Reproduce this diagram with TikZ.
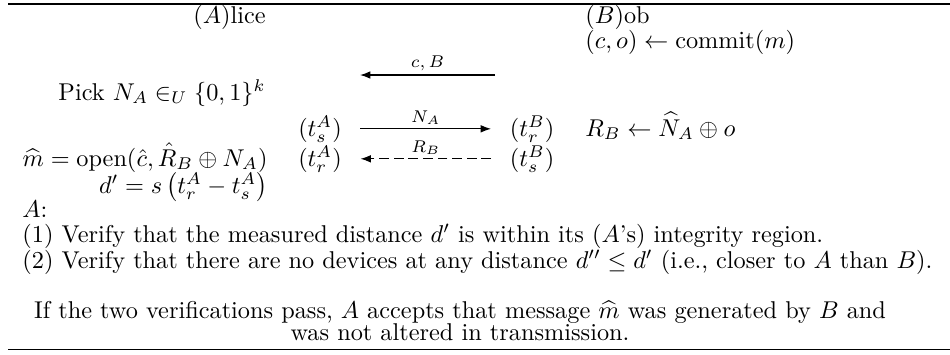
\documentclass[tikz,border=0pt]{standalone}
\usepackage{amsmath}
\usepackage{amssymb}
\usetikzlibrary{arrows.meta}
\tikzset{
  msg/.style={-{Latex[length=1.5mm,width=1.1mm]},line width=0.5pt},
  msgd/.style={msg,dash pattern=on 4pt off 2pt},
  rule/.style={line width=0.8pt},
  txt/.style={inner sep=0pt,anchor=base west},
  txtr/.style={inner sep=0pt,anchor=base east},
  txtc/.style={inner sep=0pt,anchor=base},
  stamp/.style={inner ysep=0pt,inner xsep=7.5pt,anchor=base},
  lbl/.style={font=\scriptsize,above,inner sep=1.5pt},
}

\begin{document}
\begin{tikzpicture}[x=0.4115pt,y=-0.4115pt]
  \useasboundingbox (0,0) rectangle (950,354);
  \coordinate (tl) at (8,4);
  \coordinate (tr) at (950,4);
  \coordinate (bl) at (8,349.5);
  \coordinate (br) at (950,349.5);
  \draw[rule] (tl) -- (tr);
  \draw[rule] (bl) -- (br);
  % the two parties
  \node[txt] (alice) at (193,23) {$(A)$lice};
  \node[txt] (bob) at (585,23) {$(B)$ob};
  \node[txt] (commit) at (585,48) {$(c,o) \leftarrow \mathrm{commit}(m)$};
  % commitment sent to A
  \coordinate (cbS) at (495,75);
  \coordinate (cbE) at (360,75);
  \draw[msg] (cbS) -- (cbE) node[lbl,midway] {$c,B$};
  \node[txtr] (pick) at (266,100) {Pick $N_A \in_U \{0,1\}^k$};
  % rapid bit exchange
  \node[stamp] (tsA) at (320,136) {$(t_s^A)$};
  \node[stamp] (trB) at (532,136) {$(t_r^B)$};
  \node[txt] (resp) at (585,136) {$R_B \leftarrow \widehat{N}_A \oplus o$};
  \draw[msg] (tsA.east) -- (trB.west) node[lbl,midway] {$N_A$};
  \node[stamp] (trA) at (320,166) {$(t_r^A)$};
  \node[stamp] (tsB) at (532,166) {$(t_s^B)$};
  \draw[msgd] (tsB.west) -- (trA.east) node[lbl,midway] {$R_B$};
  \node[txtr] (mhat) at (268,166) {$\widehat{m} = \mathrm{open}(\hat{c}, \hat{R}_B \oplus N_A)$};
  \node[txtr] (dist) at (268,193) {$d' = s\left(t_r^A - t_s^A\right)$};
  % checks by A
  \node[txt] (verA) at (22,217) {$A$:};
  \node[txt] (chk1) at (22,242) {(1) Verify that the measured distance $d'$ is within its ($A$'s) integrity region.};
  \node[txt] (chk2) at (22,268) {(2) Verify that there are no devices at any distance $d'' \leq d'$ (i.e., closer to $A$ than $B$).};
  \node[txtc] (acc1) at (460,318) {If the two verifications pass, $A$ accepts that message $\widehat{m}$ was generated by $B$ and};
  \node[txtc] (acc2) at (460,340) {was not altered in transmission.};
\end{tikzpicture}
\end{document}
